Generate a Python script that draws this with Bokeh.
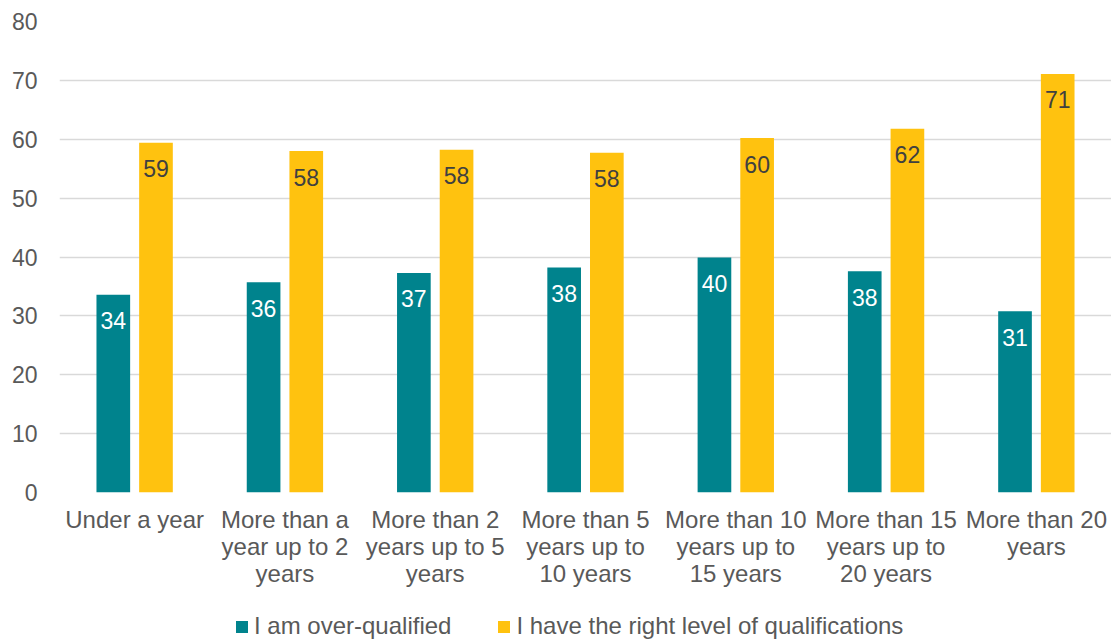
from bokeh.plotting import figure
from bokeh.layouts import column
from bokeh.models import ColumnDataSource, Legend, LegendItem, FixedTicker
from bokeh.transform import dodge
from bokeh.core.properties import value
from bokeh.embed import file_html
from bokeh.resources import INLINE

categories = [
    "Under a year",
    "More than a\nyear up to 2\nyears",
    "More than 2\nyears up to 5\nyears",
    "More than 5\nyears up to\n10 years",
    "More than 10\nyears up to\n15 years",
    "More than 15\nyears up to\n20 years",
    "More than 20\nyears",
]
over_qualified = [33.6, 35.7, 37.3, 38.2, 39.9, 37.6, 30.8]
right_level = [59.4, 58.0, 58.2, 57.7, 60.2, 61.8, 71.1]
y_ticks = [0, 10, 20, 30, 40, 50, 60, 70, 80]
series_names = ["I am over-qualified", "I have the right level of qualifications"]

TEAL = "#00838D"
YELLOW = "#FFC20F"
FONT = "Liberation Sans"
GREY = "#595959"

source = ColumnDataSource(dict(
    cat=categories,
    over=over_qualified,
    right=right_level,
    over_lbl=[f"{v:.0f}" for v in over_qualified],
    right_lbl=[f"{v:.0f}" for v in right_level],
))

p = figure(
    x_range=categories, y_range=(0, 80),
    width=1111, height=592,
    output_backend="svg", toolbar_location=None,
    min_border_left=59, min_border_right=0, min_border_top=21, min_border_bottom=100,
    outline_line_color=None,
)

p.vbar(x=dodge("cat", -0.142, range=p.x_range), top="over", width=0.224,
       source=source, fill_color=TEAL, line_color=None)
p.vbar(x=dodge("cat", 0.142, range=p.x_range), top="right", width=0.224,
       source=source, fill_color=YELLOW, line_color=None)

p.text(x=dodge("cat", -0.142, range=p.x_range), y="over", text="over_lbl", source=source,
       text_font=value(FONT), text_font_size="23px", text_color="white",
       text_align="center", text_baseline="middle", y_offset=26)
p.text(x=dodge("cat", 0.142, range=p.x_range), y="right", text="right_lbl", source=source,
       text_font=value(FONT), text_font_size="23px", text_color="#404040",
       text_align="center", text_baseline="middle", y_offset=26)

p.x_range.range_padding = 0
p.xgrid.grid_line_color = None
p.ygrid.grid_line_color = "#d9d9d9"
p.ygrid.grid_line_width = 1.5
p.yaxis.ticker = FixedTicker(ticks=y_ticks)

for ax in (p.xaxis[0], p.yaxis[0]):
    ax.axis_line_color = None
    ax.major_tick_line_color = None
    ax.minor_tick_line_color = None
    ax.major_tick_out = 0
    ax.major_tick_in = 0
    ax.major_label_text_font = FONT
    ax.major_label_text_color = GREY

p.yaxis.major_label_text_font_size = "23px"
p.yaxis.major_label_standoff = 22
p.xaxis.major_label_text_font_size = "24px"
p.xaxis.major_label_standoff = 13
p.xaxis.major_label_text_line_height = 1.0

# strip underneath the chart that carries the series legend;
# its key glyphs sit outside the strip's visible range
leg = figure(
    width=1111, height=48, x_range=(0, 1), y_range=(0, 1),
    x_axis_type=None, y_axis_type=None,
    output_backend="svg", toolbar_location=None,
    min_border=0, outline_line_color=None,
)
leg.grid.grid_line_color = None
key_over = leg.vbar(x=[5], top=[5], bottom=[4], width=0.1, fill_color=TEAL, line_color=None)
key_right = leg.vbar(x=[5], top=[5], bottom=[4], width=0.1, fill_color=YELLOW, line_color=None)

legend = Legend(
    items=[
        LegendItem(label=series_names[0], renderers=[key_over]),
        LegendItem(label=series_names[1], renderers=[key_right]),
    ],
    orientation="horizontal", location=(175, 0),
    glyph_width=15, glyph_height=15, label_standoff=5, spacing=45,
    label_text_font=FONT, label_text_font_size="24px", label_text_color=GREY,
    padding=0, margin=0, border_line_color=None, background_fill_alpha=0,
)
leg.add_layout(legend, "center")

layout = column(p, leg, spacing=0)
open("out.html", "w").write(file_html(layout, INLINE))
